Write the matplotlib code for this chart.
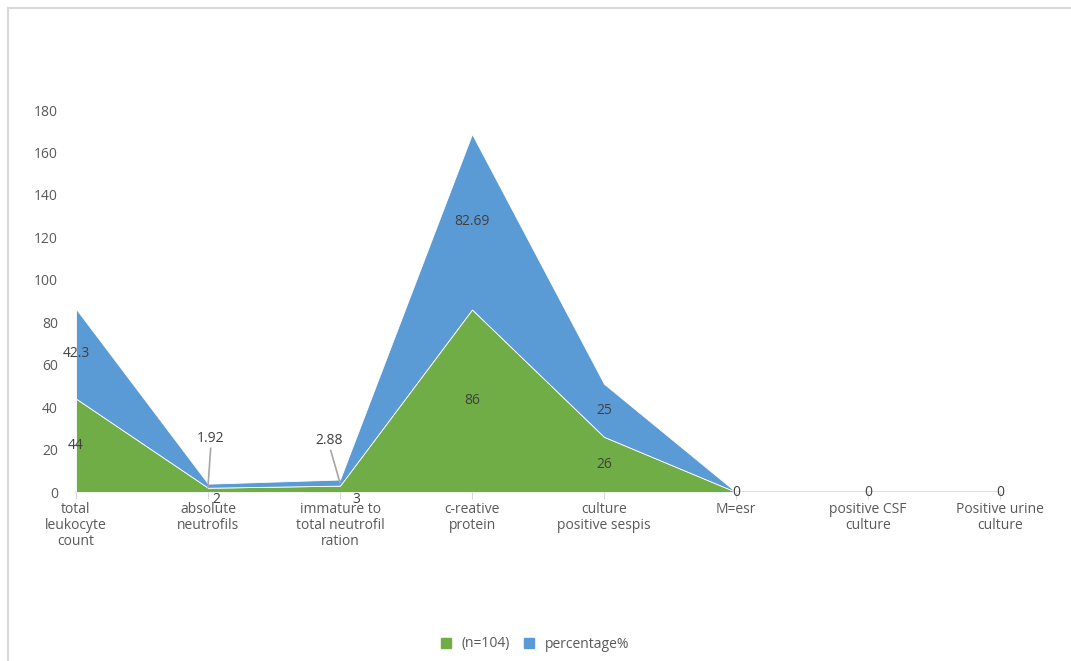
#!/usr/bin/env python3
"""Stacked area chart of sepsis screening results"""

import matplotlib
matplotlib.use("Agg")
import matplotlib.pyplot as plt
from matplotlib.lines import Line2D
from matplotlib.patches import Patch

plt.rcParams['font.family'] = ['Open Sans', 'DejaVu Sans']

categories = ["total\nleukocyte\ncount", "absolute\nneutrofils",
              "immature to\ntotal neutrofil\nration", "c-reative\nprotein",
              "culture\npositive sespis", "M=esr", "positive CSF\nculture",
              "Positive urine\nculture"]
count_n104 = [44, 2, 3, 86, 26, 0, 0, 0]
percentage = [42.3, 1.92, 2.88, 82.69, 25, 0, 0, 0]
count_labels = ["44", "2", "3", "86", "26", "0", "0", "0"]
pct_labels = ["42.3", "1.92", "2.88", "82.69", "25", "", "", ""]

GREEN = '#70AD47'
BLUE = '#5B9BD5'
TXT = '#595959'
LBL = '#404040'

fig = plt.figure(figsize=(10.71, 6.61), dpi=100)
ax = fig.add_axes([76/1071, 1 - 492/661, (1000 - 76)/1071, (492 - 110)/661])

x = list(range(len(categories)))
top = [a + b for a, b in zip(count_n104, percentage)]
ax.stackplot(x, count_n104, percentage, colors=[GREEN, BLUE],
             edgecolor='white', linewidth=0.6)

ax.set_xlim(0, len(categories) - 1)
ax.set_ylim(0, 180)
ax.set_yticks(range(0, 181, 20))
ax.set_xticks(x)
ax.set_xticklabels(categories, color=TXT, fontsize=10, linespacing=1.1)
ax.tick_params(axis='y', length=0, labelcolor=TXT, labelsize=10, pad=13)
ax.tick_params(axis='x', length=5, color='#D9D9D9', pad=2)
for s in ['top', 'right', 'left']:
    ax.spines[s].set_visible(False)
ax.spines['bottom'].set_color('#D9D9D9')
ax.spines['bottom'].set_linewidth(1.2)
ax.spines['bottom'].set_zorder(0)

# leader-line label positions for the thin slices (data units):
# label x, label y, line start x, line start y
leader_pos = {1: (1.02, 25.4, 1.02, 20.5), 2: (1.92, 24.5, 1.93, 19.5)}

for i in x:
    c, p = count_n104[i], percentage[i]
    if c >= 10:
        ax.text(i, c / 2, count_labels[i], ha='center', va='center',
                color=LBL, fontsize=10)
    elif c > 0:
        ax.text(i + 0.06 + 0.06 * (i == 2), -3.5, count_labels[i],
                ha='center', va='center', color=LBL, fontsize=10)
    else:
        ax.text(i, 0, count_labels[i], ha='center', va='center',
                color=LBL, fontsize=10, clip_on=False)
    if p >= 10:
        ax.text(i, c + p / 2, pct_labels[i], ha='center', va='center',
                color=LBL, fontsize=10)
    elif p > 0:
        lx, ly, sx, sy = leader_pos[i]
        ax.text(lx, ly, pct_labels[i], ha='center', va='center',
                color=LBL, fontsize=10)
        ax.add_line(Line2D([sx, i], [sy, top[i] - 1.5],
                           color='#A6A6A6', lw=1.2))

handles = [Patch(color=GREEN, label='(n=104)'),
           Patch(color=BLUE, label='percentage%')]
fig.legend(handles=handles, loc='center', bbox_to_anchor=(535/1071, 1 - 644/661),
           ncol=2, frameon=False, fontsize=10, handlelength=0.7,
           handleheight=0.7, columnspacing=1.0, handletextpad=0.8,
           labelcolor=TXT)

# chart frame (top and left edges visible)
fig.add_artist(Line2D([8/1071, 8/1071], [0, 1 - 8/661], color='#D9D9D9',
                      lw=1.5, transform=fig.transFigure))
fig.add_artist(Line2D([8/1071, 1], [1 - 8/661, 1 - 8/661], color='#D9D9D9',
                      lw=1.5, transform=fig.transFigure))

fig.savefig("out.png", dpi=100)
